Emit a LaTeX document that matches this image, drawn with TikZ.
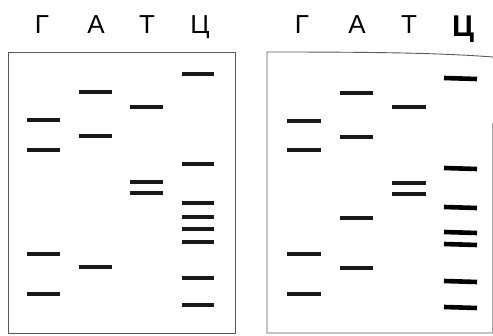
\documentclass[tikz,border=0pt]{standalone}
\usepackage{fontspec}
\setmainfont{Liberation Sans}
\begin{document}
\begin{tikzpicture}[x=1pt,y=-1pt,
  band/.style={line width=3.4pt,black!90},
  bandb/.style={line width=4.6pt,black},
  gel/.style={line width=0.9pt,black!65},
  lbl/.style={font=\fontsize{26}{26}\selectfont,inner sep=0pt,anchor=base}]
\useasboundingbox (0,0) rectangle (493,336);
% left panel
\draw[gel] (8,52) -- (235,52) -- (235,333) -- (8,333) -- cycle;
\node[lbl] (g1) at (42,34) {Г};
\node[lbl] (a1) at (96,34) {А};
\node[lbl] (t1) at (147,34) {Т};
\node[lbl] (c1) at (200,34) {Ц};
\foreach \y in {120,150,254,294} \draw[band] (27,\y) -- (60,\y);
\foreach \y in {92,136,267} \draw[band] (79,\y) -- (112,\y);
\foreach \y in {107,182,193} \draw[band] (130,\y) -- (163,\y);
\foreach \y in {74,164,203,217,229,242,278,305} \draw[band] (182,\y) -- (214,\y);
% right panel
\draw[gel] (493,57) .. controls (440,53) and (380,52) .. (267,52) -- (267,333) -- (493,333);
\draw[gel,black!35] (492.5,123) -- (492.5,333);
\node[lbl] (g2) at (302,34) {Г};
\node[lbl] (a2) at (357,34) {А};
\node[lbl] (t2) at (409,34) {Т};
\node[lbl,font=\fontsize{30}{30}\selectfont\bfseries] (c2) at (463,37) {Ц};
\foreach \y in {121,150,254,294} \draw[band] (287,\y) -- (321,\y);
\foreach \y in {93,137,218,268} \draw[band] (340,\y) -- (373,\y);
\foreach \y in {107,183,194} \draw[band] (392,\y) -- (426,\y);
\foreach \y in {78,168,207,232,244,281,307} \draw[bandb] (444,\y) -- (477,\y+1);
\end{tikzpicture}
\end{document}
